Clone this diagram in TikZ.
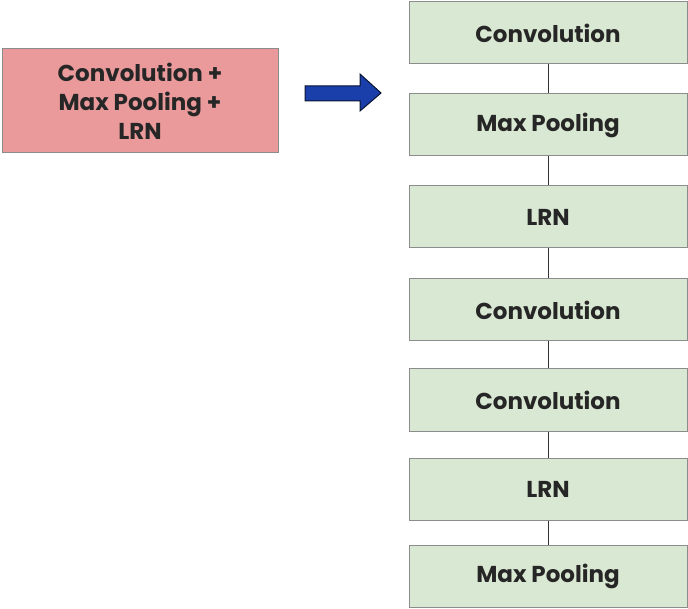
\documentclass[tikz,border=0pt]{standalone}
\usepackage{fontspec}
\setmainfont{Poppins}
\begin{document}
\begin{tikzpicture}[x=1pt,y=-1pt,
  layer/.style={draw=black!45, line width=1pt, fill=layergreen, minimum width=278pt, minimum height=62pt, inner sep=0pt, font=\fontsize{23}{27}\selectfont\bfseries, text=black!85},
  link/.style={draw=black!80, line width=1pt}]
\definecolor{layergreen}{HTML}{D9E8D2}
\definecolor{pinkred}{HTML}{EA9A9A}
\definecolor{arrowblue}{HTML}{1A3FAA}
\useasboundingbox (0,0) rectangle (688,609);
\node[draw=black!45, line width=1pt, fill=pinkred, minimum width=276pt, minimum height=104pt, inner sep=0pt, align=center, font=\fontsize{23}{29}\selectfont\bfseries, text=black!85] (combo) at (140,101) {Convolution +\\Max Pooling +\\LRN};
\node[layer] (c1) at (548,33) {Convolution};
\node[layer] (p1) at (548,125) {Max Pooling};
\node[layer] (l1) at (548,217) {LRN};
\node[layer] (c2) at (548,310) {Convolution};
\node[layer] (c3) at (548,400) {Convolution};
\node[layer] (l2) at (548,489) {LRN};
\node[layer] (p2) at (548,576) {Max Pooling};
\foreach \a/\b in {c1/p1,p1/l1,l1/c2,c2/c3,c3/l2,l2/p2} \draw[link] (\a) -- (\b);
\draw[fill=arrowblue, draw=black!70!arrowblue, line width=1pt, line join=miter]
  (305,86) -- (360,86) -- (360,74) -- (381,93) -- (360,111) -- (360,101) -- (305,101) -- cycle;
\end{tikzpicture}
\end{document}
